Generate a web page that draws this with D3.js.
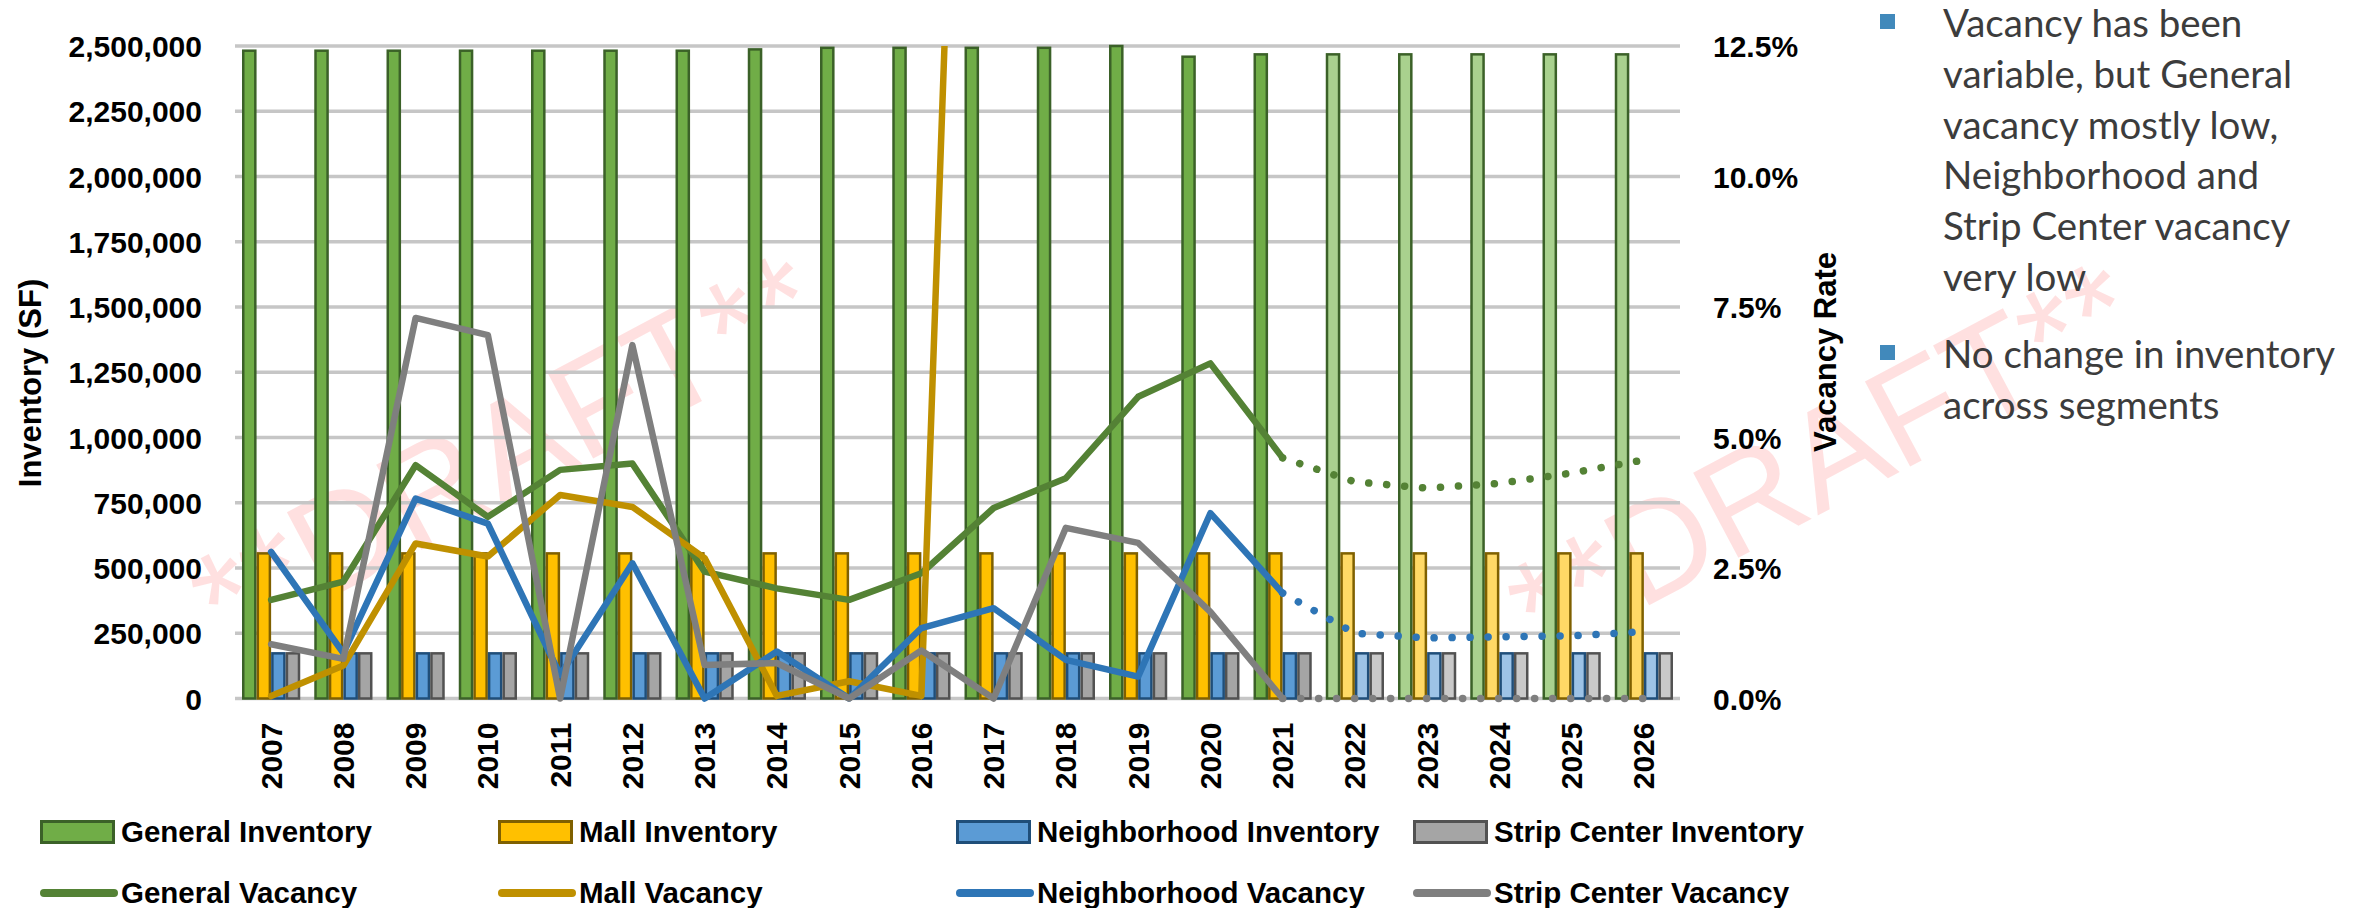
<!DOCTYPE html>
<html>
<head>
<meta charset="utf-8">
<script src="https://cdn.jsdelivr.net/npm/d3@7"></script>
<style>
  html, body { margin: 0; padding: 0; background: #fff; }
  svg { display: block; }
</style>
</head>
<body>
<svg id="chart" width="2376" height="908"></svg>
<script>
// ---- data ----
const years = ["2007","2008","2009","2010","2011","2012","2013","2014","2015","2016",
               "2017","2018","2019","2020","2021","2022","2023","2024","2025","2026"];
const lastActualYear = "2021";

const generalInventory = [2482000,2482000,2482000,2482000,2482000,2482000,2482000,2487000,2493000,2493000,
                          2493000,2493000,2500000,2459000,2468000,2468000,2468000,2468000,2468000,2468000];
const mallInventory = [556000,556000,556000,556000,556000,556000,556000,556000,556000,556000,
                       556000,556000,556000,556000,556000,556000,556000,556000,556000,556000];
const neighborhoodInventory = [173000,173000,173000,173000,173000,173000,173000,173000,173000,173000,
                               173000,173000,173000,173000,173000,173000,173000,173000,173000,173000];
const stripCenterInventory = [173000,173000,173000,173000,173000,173000,173000,173000,173000,173000,
                              173000,173000,173000,173000,173000,173000,173000,173000,173000,173000];

const generalVacancy = [0.0189,0.0224,0.0447,0.0348,0.0438,0.0450,0.0243,0.0211,0.0189,0.0240,
                        0.0365,0.0422,0.0578,0.0642,0.0461,0.0415,0.0403,0.0412,0.0432,0.0457];
const mallVacancy = [0.0005,0.0063,0.0297,0.0272,0.0390,0.0367,0.0269,0.0005,0.0033,0.0005,
                     0.3900,null,null,null,null,null,null,null,null,null];
const neighborhoodVacancy = [0.0281,0.0087,0.0383,0.0335,0.0045,0.0259,0.0000,0.0090,0.0000,0.0135,
                             0.0173,0.0074,0.0042,0.0355,0.0202,0.0125,0.0116,0.0118,0.0120,0.0128];
const stripCenterVacancy = [0.0104,0.0076,0.0729,0.0696,0.0000,0.0677,0.0064,0.0068,0.0000,0.0092,
                            0.0000,0.0327,0.0298,0.0166,0.0000,0.0000,0.0000,0.0000,0.0000,0.0000];

const inventoryTicks = [0,250000,500000,750000,1000000,1250000,1500000,1750000,2000000,2250000,2500000];
const vacancyTicks = [0,0.025,0.05,0.075,0.10,0.125];

const barSeries = [
  { key: "General Inventory",      values: generalInventory,      fill: "#70ad47", light: "#a9d18e", stroke: "#3b6128" },
  { key: "Mall Inventory",         values: mallInventory,         fill: "#ffc000", light: "#ffd966", stroke: "#7f6000" },
  { key: "Neighborhood Inventory", values: neighborhoodInventory, fill: "#5b9bd5", light: "#9dc3e6", stroke: "#1f4e79" },
  { key: "Strip Center Inventory", values: stripCenterInventory,  fill: "#a5a5a5", light: "#c9c9c9", stroke: "#525252" }
];
const lineSeries = [
  { key: "General Vacancy",      values: generalVacancy,      color: "#548235" },
  { key: "Mall Vacancy",         values: mallVacancy,         color: "#bf9000" },
  { key: "Neighborhood Vacancy", values: neighborhoodVacancy, color: "#2e75b6" },
  { key: "Strip Center Vacancy", values: stripCenterVacancy,  color: "#7f7f7f" }
];

const bulletPoints = [
  ["Vacancy has been", "variable, but General", "vacancy mostly low,", "Neighborhood and", "Strip Center vacancy", "very low"],
  ["No change in inventory", "across segments"]
];

// ---- layout ----
const W = 2376, H = 908;
const plot = { left: 235, right: 1680, top: 46, bottom: 698.5 };
const chartFont = "'Liberation Sans', Arial, sans-serif";

const svg = d3.select("#chart");
svg.append("rect").attr("width", W).attr("height", H).attr("fill", "#fff");

// watermark
const marks = svg.append("g");
[[505, 450], [1822, 458]].forEach(([cx, cy]) => {
  marks.append("text")
    .attr("transform", `translate(${cx},${cy}) rotate(-28)`)
    .attr("text-anchor", "middle")
    .attr("dy", "0.35em")
    .style("font-family", chartFont)
    .style("font-size", "140px")
    .attr("fill", "#ff0000")
    .attr("fill-opacity", 0.12)
    .text("**DRAFT**");
});

// scales
const x0 = d3.scaleBand().domain(years).range([plot.left, plot.right])
  .paddingInner(0.194).paddingOuter(0.097);
const x1 = d3.scaleBand().domain(barSeries.map(s => s.key)).range([0, x0.bandwidth()]);
const yL = d3.scaleLinear().domain([0, 2500000]).range([plot.bottom, plot.top]);
const yR = d3.scaleLinear().domain([0, 0.125]).range([plot.bottom, plot.top]);
const cx = y => x0(y) + x0.bandwidth() / 2;

// gridlines
svg.append("g").selectAll("line").data(inventoryTicks).join("line")
  .attr("x1", plot.left).attr("x2", plot.right)
  .attr("y1", d => yL(d)).attr("y2", d => yL(d))
  .attr("stroke", "#c6c6c6").attr("stroke-width", 3.5);

// bars
const isForecast = y => +y > +lastActualYear;
const bw = x1.bandwidth();
const sw = 2.5;
const groups = svg.append("g").selectAll("g").data(years).join("g")
  .attr("transform", d => `translate(${x0(d)},0)`);
groups.selectAll("rect")
  .data((yr, i) => barSeries.map(s => ({ s, yr, v: s.values[i] })))
  .join("rect")
  .attr("x", d => x1(d.s.key) + sw / 2)
  .attr("width", bw - sw)
  .attr("y", d => yL(d.v))
  .attr("height", d => yL(0) - yL(d.v))
  .attr("fill", d => isForecast(d.yr) ? d.s.light : d.s.fill)
  .attr("stroke", d => d.s.stroke)
  .attr("stroke-width", sw);

// vacancy lines
svg.append("clipPath").attr("id", "plotClip")
  .append("rect").attr("x", 0).attr("y", plot.top).attr("width", W).attr("height", H - plot.top);

const lineGen = d3.line()
  .defined(d => d.v != null)
  .x(d => cx(d.yr))
  .y(d => yR(d.v));

const lines = svg.append("g").attr("clip-path", "url(#plotClip)");
const splitIdx = years.indexOf(lastActualYear);
lineSeries.forEach(s => {
  const pts = years.map((yr, i) => ({ yr, v: s.values[i] }));
  lines.append("path")
    .datum(pts.slice(0, splitIdx + 1))
    .attr("d", lineGen)
    .attr("fill", "none")
    .attr("stroke", s.color)
    .attr("stroke-width", 6.5)
    .attr("stroke-linejoin", "round")
    .attr("stroke-linecap", "round");
  lines.append("path")
    .datum(pts.slice(splitIdx))
    .attr("d", lineGen)
    .attr("fill", "none")
    .attr("stroke", s.color)
    .attr("stroke-width", 7.5)
    .attr("stroke-linecap", "round")
    .attr("stroke-dasharray", "0.1,17.9");
});

// axes
const leftAxis = svg.append("g").attr("transform", `translate(${plot.left},0)`)
  .call(d3.axisLeft(yL).tickValues(inventoryTicks).tickFormat(d3.format(",")).tickSize(0).tickPadding(33));
const rightAxis = svg.append("g").attr("transform", `translate(${plot.right},0)`)
  .call(d3.axisRight(yR).tickValues(vacancyTicks).tickFormat(d3.format(".1%")).tickSize(0).tickPadding(33));
const bottomAxis = svg.append("g").attr("transform", `translate(0,${plot.bottom})`)
  .call(d3.axisBottom(x0).tickSize(0));
bottomAxis.selectAll("text")
  .attr("transform", "rotate(-90)")
  .attr("x", -24).attr("y", 0).attr("dy", "0.35em")
  .attr("text-anchor", "end");

[leftAxis, rightAxis, bottomAxis].forEach(g => {
  g.select(".domain").remove();
  g.selectAll("text")
    .style("font-family", chartFont)
    .style("font-weight", "bold")
    .style("font-size", "30px")
    .attr("fill", "#000");
});
leftAxis.selectAll("text").attr("dy", "0.35em");
rightAxis.selectAll("text").attr("dy", "0.35em");

// axis titles
svg.append("text")
  .attr("transform", `translate(41,383) rotate(-90)`)
  .attr("text-anchor", "middle")
  .style("font-family", chartFont).style("font-weight", "bold").style("font-size", "31px")
  .text("Inventory (SF)");
svg.append("text")
  .attr("transform", `translate(1836,352) rotate(-90)`)
  .attr("text-anchor", "middle")
  .style("font-family", chartFont).style("font-weight", "bold").style("font-size", "31px")
  .text("Vacancy Rate");

// legend
const legendX = [40, 498, 956, 1413];
const legendRows = [832, 893];
const legend = svg.append("g");
barSeries.forEach((s, i) => {
  const g = legend.append("g").attr("transform", `translate(${legendX[i]},${legendRows[0]})`);
  g.append("rect").attr("x", 1.5).attr("y", -10.5).attr("width", 72).attr("height", 21)
    .attr("fill", s.fill).attr("stroke", s.stroke).attr("stroke-width", 3);
  g.append("text").attr("x", 81).attr("dy", "0.35em")
    .style("font-family", chartFont).style("font-weight", "bold").style("font-size", "29.5px")
    .text(s.key);
});
lineSeries.forEach((s, i) => {
  const g = legend.append("g").attr("transform", `translate(${legendX[i]},${legendRows[1]})`);
  g.append("line").attr("x1", 4).attr("x2", 74).attr("y1", 0).attr("y2", 0)
    .attr("stroke", s.color).attr("stroke-width", 8).attr("stroke-linecap", "round");
  g.append("text").attr("x", 81).attr("dy", "0.35em")
    .style("font-family", chartFont).style("font-weight", "bold").style("font-size", "29.5px")
    .text(s.key);
});

// bullet notes
const notes = svg.append("g");
const bulletStarts = [37, 368];
const lineStep = 50.8;
bulletPoints.forEach((lines, b) => {
  notes.append("rect")
    .attr("x", 1880).attr("y", bulletStarts[b] - 23)
    .attr("width", 15).attr("height", 15)
    .attr("fill", "#4189bb");
  lines.forEach((t, j) => {
    notes.append("text")
      .attr("x", 1943).attr("y", bulletStarts[b] + j * lineStep)
      .style("font-family", "Lato, 'Open Sans', sans-serif")
      .style("font-size", "38.5px")
      .attr("fill", "#3c3c3c")
      .text(t);
  });
});
</script>
</body>
</html>
